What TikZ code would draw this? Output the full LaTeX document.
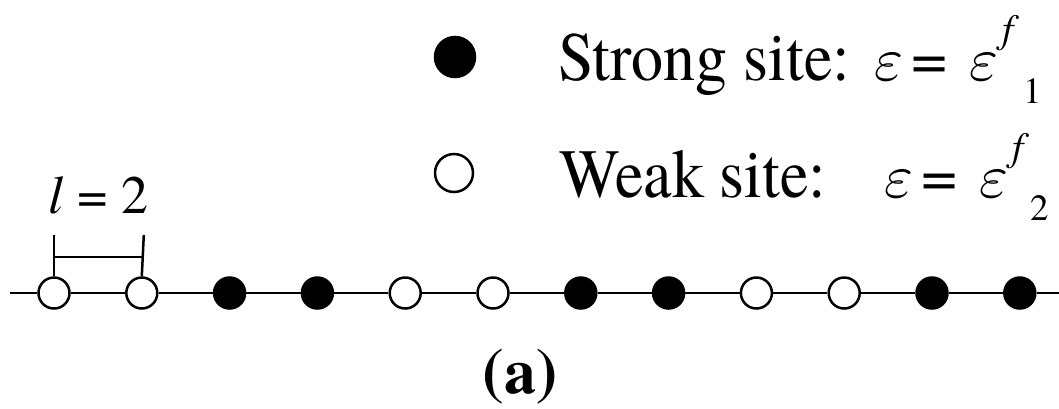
\documentclass[tikz,border=0pt]{standalone}
\usepackage{fontspec}
\setmainfont{texgyretermes}[Extension=.otf, UprightFont=*-regular, BoldFont=*-bold, ItalicFont=*-italic, BoldItalicFont=*-bolditalic]
\newcommand{\myeps}{\scalebox{6.2}{$\varepsilon$}}
\begin{document}
\begin{tikzpicture}[x=1pt,y=-1pt,
  site/.style={circle, draw, line width=2.5pt, minimum size=31pt, inner sep=0pt},
  strong/.style={site, fill=black},
  weak/.style={site, fill=white},
  lg/.style={anchor=base west, inner sep=0pt, font=\fontsize{64}{70}\selectfont},
  epsn/.style={anchor=base west, inner sep=0pt, font=\fontsize{10}{12}\selectfont},
  supf/.style={anchor=base west, inner sep=0pt, font=\fontsize{40}{44}\selectfont\itshape},
  subn/.style={anchor=base west, inner sep=0pt, font=\fontsize{37}{40}\selectfont},
  thick line/.style={line width=2.5pt}]
\useasboundingbox (0,0) rectangle (1059,408);
% legend
\node[strong, minimum size=40pt] (lgs) at (455,57) {};
\node[weak, minimum size=38pt] (lgw) at (454,173) {};
\node[lg] (strongtxt) at (558,80) {\scalebox{1}[1.08]{Strong site:}};
\node[epsn] (strongeps) at (874,80) {\myeps};
\node[lg] (strongeq) at (911,80) {=};
\node[epsn] (strongeps2) at (969,80) {\myeps};
\node[supf] (strongsup) at (1002,42) {f};
\node[subn] (strongsub) at (1023,103) {1};
\node[lg] (weaktxt) at (559,197) {\scalebox{1}[1.08]{Weak site:}};
\node[epsn] (weakeps) at (884,197) {\myeps};
\node[lg] (weakeq) at (921,197) {=};
\node[epsn] (weakeps2) at (979,197) {\myeps};
\node[supf] (weaksup) at (1012,160) {f};
\node[subn] (weaksub) at (1030,220) {2};
% chain
\coordinate (L) at (10,293);
\coordinate (R) at (1059,293);
\foreach \i/\t in {0/weak,1/weak,2/strong,3/strong,4/weak,5/weak,6/strong,7/strong,8/weak,9/weak,10/strong,11/strong}
  \node[\t] (c\i) at ({54+\i*87.8},293) {};
\draw[thick line] (L) -- (c0) -- (c1) -- (c2) -- (c3) -- (c4) -- (c5) -- (c6) -- (c7) -- (c8) -- (c9) -- (c10) -- (c11) -- (R);
% bracket
\coordinate (b0) at (54,235);
\coordinate (b1) at (143.8,235);
\coordinate (h0) at (54,257);
\coordinate (h1) at (143.8,257);
\draw[thick line] (c0.north) -- (b0);
\draw[thick line] (c1.north) -- (b1);
\draw[thick line] (h0) -- (h1);
\node[anchor=base, inner sep=0pt, font=\fontsize{54}{60}\selectfont] (lbl) at (98.5,213) {\textit{l} = 2};
\node[anchor=base, inner sep=0pt, font=\fontsize{64}{70}\selectfont\bfseries] (cap) at (520,393) {(a)};
\end{tikzpicture}
\end{document}
